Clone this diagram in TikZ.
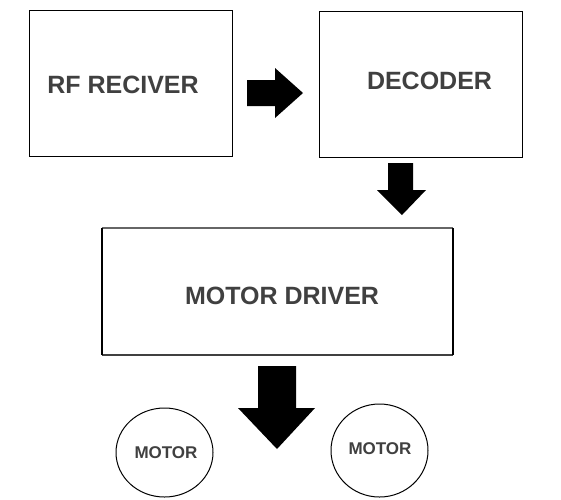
\documentclass[tikz,border=0pt]{standalone}
\usepackage{fontspec}
\setmainfont{Liberation Sans}
\definecolor{txtgray}{HTML}{404040}

\begin{document}
\begin{tikzpicture}[x=1pt,y=-1pt]
	\tikzstyle{every node}+=[inner sep=0pt]
	\tikzstyle{blocktext}=[text=txtgray,font=\fontsize{25}{30}\selectfont\bfseries]
	\tikzstyle{motortext}=[text=txtgray,font=\fontsize{17}{20}\selectfont\bfseries]
	\useasboundingbox (0,0) rectangle (561,499);
	% blocks
	\draw [black,line width=1pt] (29,10) rectangle (232,156);
	\node [blocktext] (rf) at (123,85) {RF RECIVER};
	\draw [black,line width=1pt] (319,11) rectangle (522,157);
	\node [blocktext] (dec) at (429.5,81) {DECODER};
	\draw [black!60,line width=1.2pt] (102,228) -- (453,228);
	\draw [black!75,line width=1.2pt] (102,355) -- (453,355);
	\draw [black,line width=2pt] (102,228) -- (102,355);
	\draw [black,line width=2pt] (453,228) -- (453,355);
	\node [blocktext] (drv) at (282,296) {MOTOR DRIVER};
	% motors
	\draw [black,line width=1pt] (164.5,452.5) ellipse (48.5 and 44.5);
	\node [motortext] (m1) at (166,453) {MOTOR};
	\draw [black,line width=1pt] (379.5,450.5) ellipse (48.5 and 46.5);
	\node [motortext] (m2) at (380,449) {MOTOR};
	% block arrows
	\fill [black] (247,80) -- (275,80) -- (275,68) -- (303,93) -- (275,118) -- (275,106) -- (247,106) -- cycle;
	\fill [black] (388,163) -- (413,163) -- (413,190) -- (426,190) -- (402,215) -- (377,190) -- (388,190) -- cycle;
	\fill [black] (258,366) -- (296,366) -- (296,408) -- (315,408) -- (277,449) -- (238,408) -- (258,408) -- cycle;
\end{tikzpicture}
\end{document}
